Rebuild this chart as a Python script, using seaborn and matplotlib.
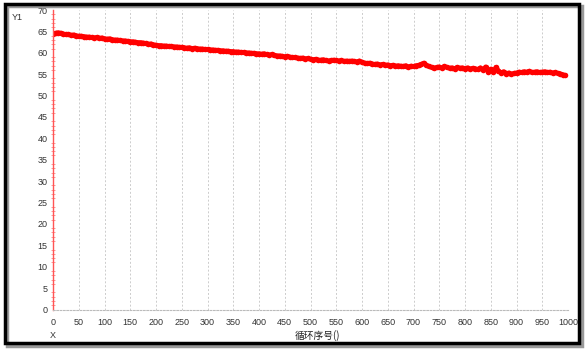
import matplotlib
matplotlib.use("Agg")
import matplotlib.pyplot as plt
import seaborn as sns
import numpy as np
import pandas as pd
from matplotlib.patches import Rectangle
from matplotlib.ticker import MultipleLocator

cycles = np.arange(0, 1000, 5)
values = [
    64.5, 64.6, 64.7, 64.6, 64.4, 64.3, 64.3, 64.1, 64.2, 64.0, 63.9, 63.9, 63.8, 63.7, 63.7, 63.6, 63.5, 63.6, 63.4, 63.5,
    63.3, 63.2, 63.3, 63.1, 63.0, 63.0, 62.9, 62.8, 62.8, 62.7, 62.6, 62.6, 62.5, 62.4, 62.4, 62.3, 62.2, 62.0, 62.1, 61.9,
    61.8, 61.7, 61.7, 61.6, 61.6, 61.5, 61.5, 61.4, 61.4, 61.3, 61.3, 61.2, 61.1, 61.2, 61.0, 61.1, 61.0, 60.9, 60.9, 60.8,
    60.8, 60.7, 60.7, 60.6, 60.6, 60.5, 60.5, 60.4, 60.4, 60.3, 60.3, 60.2, 60.2, 60.1, 60.1, 60.0, 60.0, 59.9, 59.9, 59.8,
    59.8, 59.7, 59.8, 59.6, 59.5, 59.6, 59.4, 59.3, 59.3, 59.2, 59.1, 59.2, 59.0, 58.9, 58.9, 58.8, 58.7, 58.8, 58.6, 58.7,
    58.5, 58.4, 58.5, 58.3, 58.3, 58.4, 58.2, 58.1, 58.2, 58.3, 58.2, 58.1, 58.2, 58.0, 58.1, 58.0, 58.1, 58.0, 57.9, 58.1,
    57.8, 57.6, 57.5, 57.6, 57.4, 57.3, 57.4, 57.2, 57.3, 57.1, 57.2, 57.0, 57.1, 56.9, 57.0, 56.9, 56.8, 57.0, 56.7, 56.9,
    56.8, 57.0, 57.1, 57.3, 57.6, 57.1, 56.8, 56.6, 56.4, 56.6, 56.7, 56.5, 56.8, 56.6, 56.4, 56.5, 56.3, 56.6, 56.4, 56.5,
    56.3, 56.5, 56.2, 56.4, 56.3, 56.1, 56.5, 56.0, 56.7, 55.6, 56.2, 55.5, 56.6, 55.8, 55.3, 55.6, 55.1, 55.3, 55.0, 55.2,
    55.3, 55.5, 55.4, 55.6, 55.5, 55.7, 55.4, 55.5, 55.6, 55.4, 55.5, 55.6, 55.4, 55.5, 55.3, 55.4, 55.2, 55.1, 54.9, 54.7,
]
x_ticks = list(range(0, 1001, 50))
y_ticks = list(range(0, 71, 5))

df = pd.DataFrame({"cycle": cycles, "value": values})

sns.set_style("white")
plt.rcParams["font.family"] = ["Liberation Sans", "Noto Sans CJK SC", "DejaVu Sans"]

fig = plt.figure(figsize=(5.85, 3.51), dpi=100)
ax = fig.add_axes([53 / 585, 1 - 309.5 / 351, (568 - 53) / 585, (309.5 - 10) / 351])

sns.lineplot(data=df, x="cycle", y="value", ax=ax, color="#ff0000",
             linewidth=3.4, marker="o", markersize=4, markeredgewidth=0)

ax.set_xlim(0, 1000)
ax.set_ylim(0, 70)
ax.set_xticks(x_ticks)
ax.set_yticks(y_ticks)
ax.yaxis.set_minor_locator(MultipleLocator(1))
ax.xaxis.grid(True, color="#cccccc", linestyle=(0, (2, 2)), linewidth=0.7)
ax.yaxis.grid(False)

for s in ["top", "right"]:
    ax.spines[s].set_visible(False)
ax.spines["left"].set_color("#ff5555")
ax.spines["left"].set_linewidth(1.0)
ax.spines["bottom"].set_color("#bbbbbb")
ax.spines["bottom"].set_linestyle((0, (1.5, 1.5)))
ax.spines["bottom"].set_linewidth(0.8)

ax.tick_params(axis="y", which="major", direction="out", length=3, color="#ff5555",
               labelsize=6.5, labelcolor="#333333", pad=1)
ax.tick_params(axis="y", which="minor", direction="inout", length=3, color="#ff8888", left=True)
ax.tick_params(axis="x", which="major", direction="out", length=0, labelsize=6.5,
               labelcolor="#333333", pad=6)
ax.set_xlabel("")
ax.set_ylabel("")

fig.text(12 / 585, 1 - 18 / 351, "Y1", fontsize=6.5, color="#333333", ha="left", va="center")
fig.text(53 / 585, 1 - 336 / 351, "X", fontsize=6.5, color="#333333", ha="center", va="center")
fig.text(295 / 585, 1 - 336 / 351, "循环序号()", fontsize=7, color="#222222", ha="left", va="center",
         family=["Noto Sans CJK SC", "DejaVu Sans"])

# screenshot frame with shadow
fig.patches.append(Rectangle((7 / 585, 1 - 346 / 351), 575 / 585, 340 / 351, transform=fig.transFigure,
                             fill=False, edgecolor="#999999", linewidth=2.5, zorder=9))
fig.patches.append(Rectangle((5 / 585, 1 - 343 / 351), 574 / 585, 339 / 351, transform=fig.transFigure,
                             fill=False, edgecolor="#000000", linewidth=2.5, zorder=10))

fig.savefig("out.png", dpi=100)
